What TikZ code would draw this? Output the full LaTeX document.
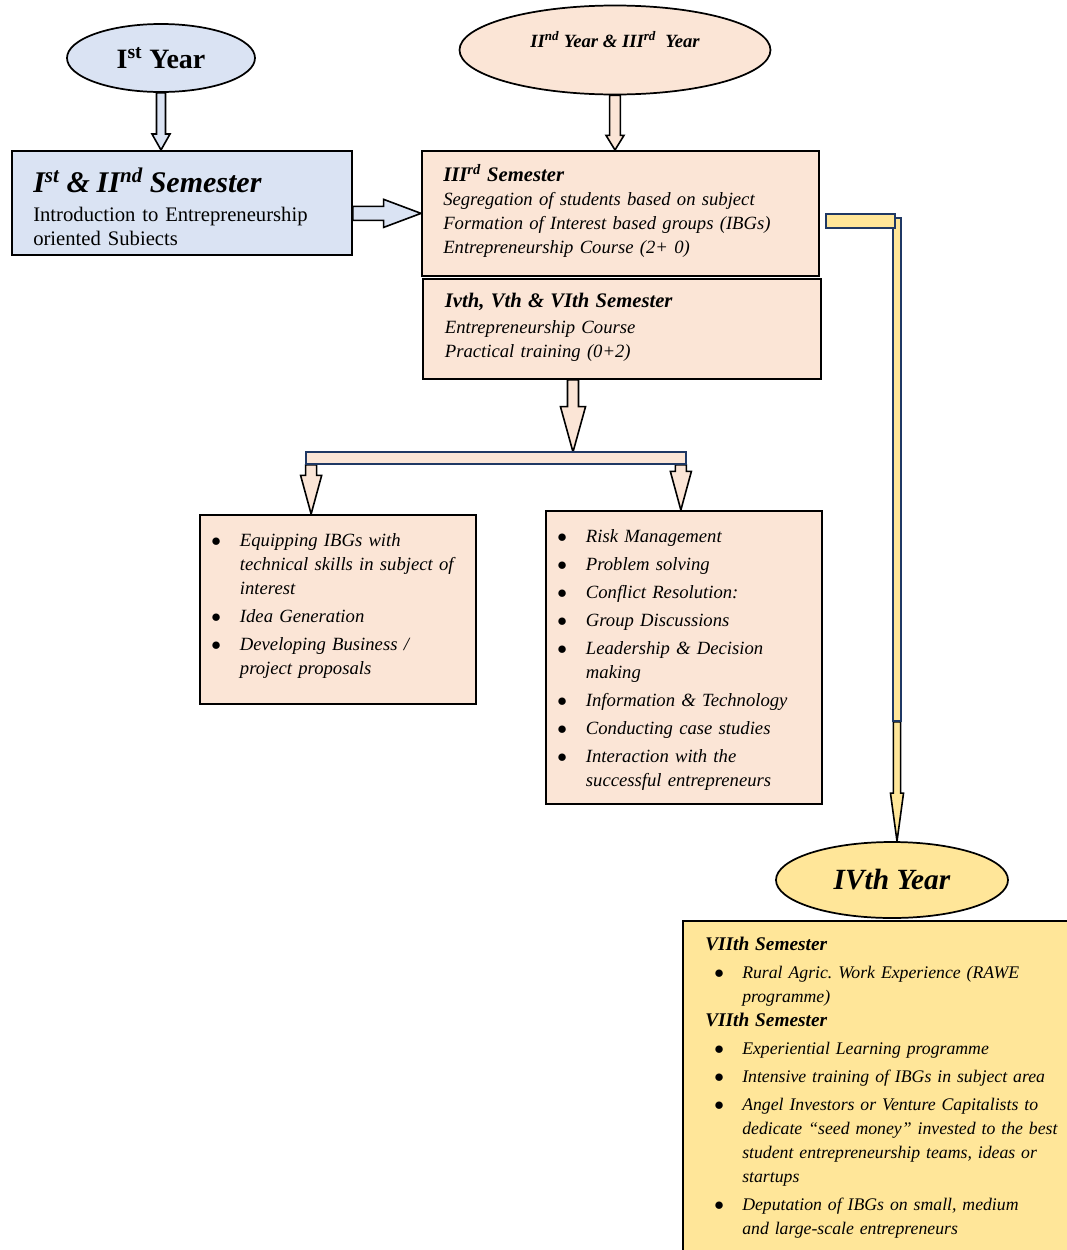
\documentclass[tikz,border=0pt]{standalone}
\usepackage{fontspec}
\setmainfont{Liberation Serif}
\usepackage{enumitem}
\usetikzlibrary{positioning,calc,shapes.geometric,backgrounds}

\definecolor{paleblue}{HTML}{DAE3F3}
\definecolor{peach}{HTML}{FBE5D6}
\definecolor{paleyellow}{HTML}{FFE699}
\definecolor{navy}{HTML}{1F3864}

\setlist[itemize]{nosep, itemsep=3pt, label=$\bullet$, align=left,
  labelsep=0pt, labelindent=0pt, labelwidth=21.5pt, leftmargin=21.5pt}

\newcommand{\semhead}[1][15.5]{\fontsize{#1}{18}\selectfont\bfseries\itshape}

% hollow block arrows: style, from, to, half shaft, half head, head length
\newcommand{\downblock}[6]{%
  \draw[#1] let \p1=(#2), \p2=(#3) in
    (\x1-#4,\y1) -- (\x1-#4,\y2+#6) -- (\x1-#5,\y2+#6) -- (\x1,\y2)
    -- (\x1+#5,\y2+#6) -- (\x1+#4,\y2+#6) -- (\x1+#4,\y1) -- cycle;}
\newcommand{\rightblock}[6]{%
  \draw[#1] let \p1=(#2), \p2=(#3) in
    (\x1,\y1+#4) -- (\x2-#6,\y1+#4) -- (\x2-#6,\y1+#5) -- (\x2,\y1)
    -- (\x2-#6,\y1-#5) -- (\x2-#6,\y1-#4) -- (\x1,\y1-#4) -- cycle;}

\begin{document}
\begin{tikzpicture}[x=0.75pt, y=-0.75pt,
yearnode/.style={ellipse, draw=black, line width=1.3pt, inner sep=0pt},
sembox/.style={rectangle, draw=black, line width=1.3pt, inner sep=0pt, anchor=north west},
semtext/.style={inner sep=0pt, align=left, text width=#1, font=\fontsize{14}{18}\selectfont\itshape},
blockarrow/.style={draw=black, line width=1.2pt, line join=miter, fill=#1},
linkbar/.style={rectangle, draw=navy, line width=1.3pt, inner sep=0pt, fill=#1}
]
\useasboundingbox (0,0) rectangle (1067,1250);

% first year
\node[yearnode, fill=paleblue, minimum width=141pt, minimum height=51pt,
  font=\fontsize{21}{24}\selectfont\bfseries] (y1) at (161,58) {I\textsuperscript{st} Year};
\node[sembox, fill=paleblue, minimum width=255pt, minimum height=78pt] (s12) at (11,150) {};
\node[semtext=240pt, below right=13pt and 16.5pt of s12.north west,
  font=\fontsize{15.5}{18}\selectfont] (s12txt)
  {{\fontsize{22.5}{24}\selectfont\bfseries\itshape I\textsuperscript{st} \& II\textsuperscript{nd} Semester}\\[4pt]
   Introduction to Entrepreneurship\\ oriented Subiects};

% second and third year
\node[yearnode, fill=peach, minimum width=233.25pt, minimum height=66.75pt,
  text height=11pt, text depth=15pt,
  font=\fontsize{14}{18}\selectfont\bfseries\itshape] (y23) at (615,50)
  {II\textsuperscript{nd} Year \& III\textsuperscript{rd}~\ Year};
\node[sembox, fill=peach, minimum width=297.75pt, minimum height=93.75pt] (s3) at (421,150) {};
\node[semtext=280pt, below right=11pt and 16.5pt of s3.north west] (s3txt)
  {{\semhead III\textsuperscript{rd} Semester}\\
   Segregation of students based on subject\\
   Formation of Interest based groups (IBGs)\\
   Entrepreneurship Course (2+ 0)};
\node[sembox, fill=peach, minimum width=298.5pt, minimum height=75pt] (s456) at (422,278) {};
\node[semtext=280pt, below right=11.5pt and 17pt of s456.north west] (s456txt)
  {{\semhead Ivth, Vth \& VIth Semester}\\[1.5pt]
   Entrepreneurship Course\\
   Practical training (0+2)};

\coordinate (forkin) at (573,452);
\node[linkbar=peach, minimum width=285pt, minimum height=9pt] (fork) at (496,458) {};

\node[sembox, fill=peach, minimum width=207pt, minimum height=141.75pt] (tech) at (199,514) {};
\node[semtext=195pt, below right=6.5pt and 9pt of tech.north west] (techtxt)
  {\begin{itemize}
   \item Equipping IBGs with\newline technical skills in subject of\newline interest
   \item Idea Generation
   \item Developing Business /\newline project proposals
   \end{itemize}};
\node[sembox, fill=peach, minimum width=207pt, minimum height=219.75pt] (soft) at (545,510) {};
\node[semtext=195pt, below right=6.5pt and 9pt of soft.north west] (softtxt)
  {\begin{itemize}
   \item Risk Management
   \item Problem solving
   \item Conflict Resolution:
   \item Group Discussions
   \item Leadership \& Decision\newline making
   \item Information \& Technology
   \item Conducting case studies
   \item Interaction with the\newline successful entrepreneurs
   \end{itemize}};

% fourth year
\node[linkbar=paleyellow, minimum width=6pt, minimum height=377.25pt] (yv) at (897,469.5) {};
\node[linkbar=paleyellow, minimum width=51.75pt, minimum height=10.5pt] (yh) at (860.5,221) {};
\node[yearnode, fill=paleyellow, minimum width=174pt, minimum height=57pt,
  font=\fontsize{22}{26}\selectfont\bfseries\itshape] (y4) at (892,880) {IVth Year};
\node[anchor=north west, fill=paleyellow, inner sep=0pt, minimum width=288pt,
  minimum height=246.75pt] (s78) at (683,921) {};
\draw[line width=1.3pt] (s78.south west) -- (s78.north west) -- (s78.north east);
\node[semtext=290pt, below right=12pt and 16.5pt of s78.north west,
  font=\fontsize{13.3}{18}\selectfont\itshape] (s78txt)
  {{\semhead[14.5]VIIth Semester}\par\vspace{3pt}
   \begin{itemize}[labelindent=6.75pt, labelwidth=21pt, leftmargin=27.75pt]
   \item Rural Agric.\ Work Experience (RAWE\newline programme)
   \end{itemize}
   {\semhead[14.5]VIIth Semester}\par\vspace{3pt}
   \begin{itemize}[labelindent=6.75pt, labelwidth=21pt, leftmargin=27.75pt]
   \item Experiential Learning programme
   \item Intensive training of IBGs in subject area
   \item Angel Investors or Venture Capitalists to\newline dedicate ``seed money'' invested to the best\newline student entrepreneurship teams, ideas or\newline startups
   \item Deputation of IBGs on small, medium\newline and large-scale entrepreneurs
   \end{itemize}};

\begin{scope}[on background layer]
\downblock{blockarrow=paleblue}{y1.south}{s12.north}{3.4pt}{6.75pt}{12pt}
\rightblock{blockarrow=paleblue}{s12.east |- s3.west}{s3.west}{5.25pt}{10.5pt}{28pt}
\downblock{blockarrow=peach}{y23.south}{s3.north}{4pt}{6.75pt}{11pt}
\downblock{blockarrow=peach}{s456.south -| forkin}{forkin}{4.1pt}{9.4pt}{34pt}
\downblock{blockarrow=peach}{[xshift=4.5pt]fork.south west}{tech.north}{4.1pt}{7.9pt}{29pt}
\downblock{blockarrow=peach}{[xshift=-4.5pt]fork.south east}{soft.north}{4.1pt}{7.9pt}{29pt}
\downblock{blockarrow=paleyellow}{yv.south}{y4.north}{2.7pt}{4.9pt}{36pt}
\end{scope}
\end{tikzpicture}
\end{document}
